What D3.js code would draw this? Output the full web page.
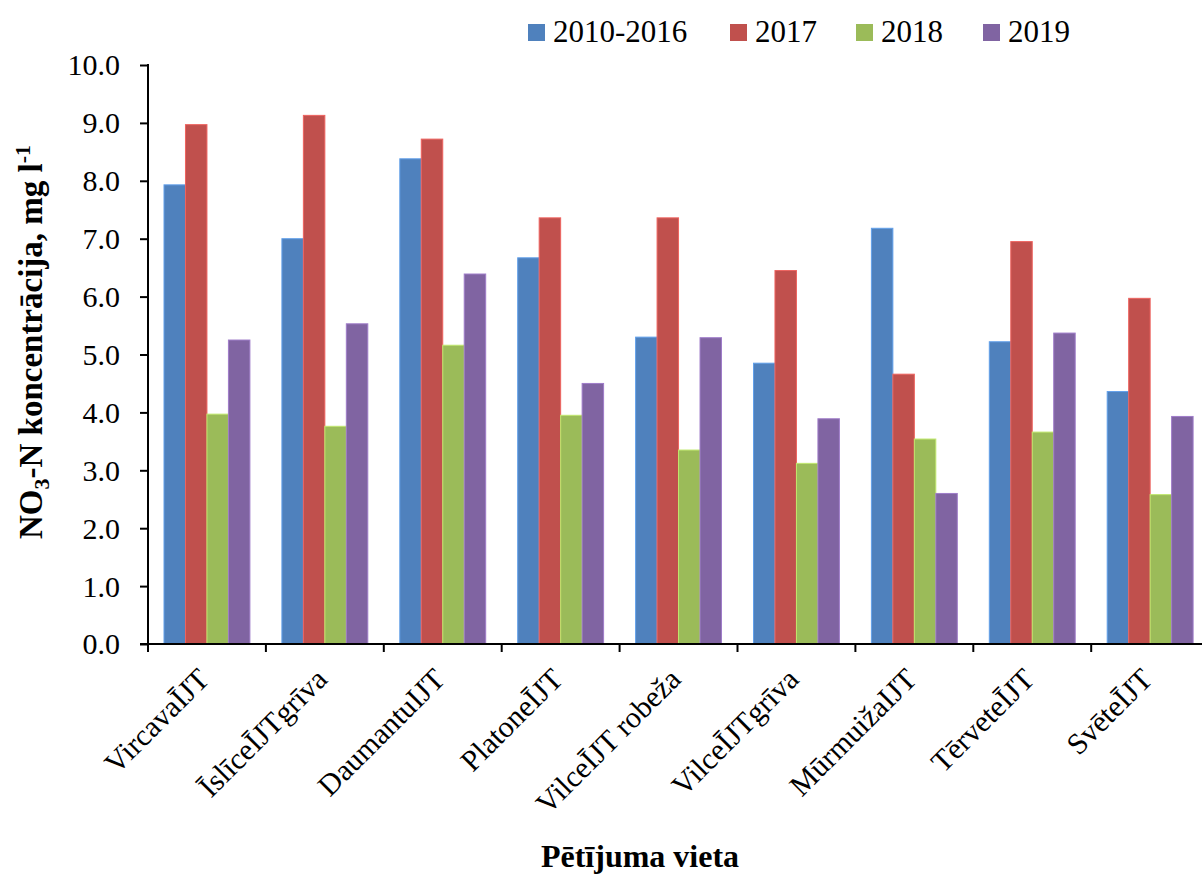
<!DOCTYPE html>
<html>
<head>
  <meta charset="utf-8">
  <title>NO3-N koncentrācija</title>
  <script src="https://cdn.jsdelivr.net/npm/d3@7/dist/d3.min.js"></script>
  <style>
    body { margin: 0; background: #fff; }
    svg { display: block; }
    text { font-family: "Times New Roman", "Liberation Serif", serif; fill: #000; }
  </style>
</head>
<body>
<div id="chart"></div>

<script>
  // data
  var categories = ['VircavaĪJT', 'ĪslīceĪJTgrīva', 'DaumantuIJT', 'PlatoneĪJT', 'VilceĪJT robeža',
                    'VilceĪJTgrīva', 'MūrmuižaIJT', 'TērveteĪJT', 'SvēteĪJT'];
  var seriesNames = ['2010-2016', '2017', '2018', '2019'];
  var v2010_2016 = [7.93, 7.00, 8.38, 6.67, 5.30, 4.85, 7.18, 5.22, 4.36];
  var v2017      = [8.97, 9.13, 8.72, 7.36, 7.36, 6.45, 4.66, 6.95, 5.97];
  var v2018      = [3.97, 3.76, 5.16, 3.95, 3.35, 3.12, 3.54, 3.66, 2.58];
  var v2019      = [5.25, 5.53, 6.39, 4.50, 5.29, 3.89, 2.60, 5.37, 3.93];
  var yTicks = [0, 1, 2, 3, 4, 5, 6, 7, 8, 9, 10];
  var colors = ['#4F81BD', '#C0504D', '#9BBB59', '#8064A2'];

  var seriesValues = [v2010_2016, v2017, v2018, v2019];

  var w = 1202, h = 875;
  var plotLeft = 148, plotTop = 65, plotH = 579;
  var bandW = 117.9;

  var svg = d3.select('#chart').append('svg')
      .attr('width', w)
      .attr('height', h);

  var x0 = d3.scaleBand()
      .domain(categories)
      .range([plotLeft, plotLeft + bandW * categories.length]);
  var x1 = d3.scaleBand()
      .domain(seriesNames)
      .range([16, bandW - 16]);
  var y = d3.scaleLinear()
      .domain([0, 10])
      .range([plotTop + plotH, plotTop]);

  // bars
  var groups = svg.selectAll('g.grp')
      .data(categories)
      .enter()
      .append('g')
      .attr('class', 'grp')
      .attr('transform', function (d) { return 'translate(' + x0(d) + ',0)'; });

  groups.selectAll('rect')
      .data(function (d, i) {
        return seriesNames.map(function (s, j) { return { s: s, j: j, v: seriesValues[j][i] }; });
      })
      .enter()
      .append('rect')
      .attr('x', function (d) { return x1(d.s); })
      .attr('y', function (d) { return y(d.v); })
      .attr('width', x1.bandwidth())
      .attr('height', function (d) { return y(0) - y(d.v); })
      .attr('fill', function (d) { return colors[d.j]; })
      .attr('stroke', function (d) { return d3.color(colors[d.j]).brighter(0.6); })
      .attr('stroke-width', 1);

  // y axis
  var yAxis = d3.axisLeft(y)
      .tickValues(yTicks)
      .tickFormat(d3.format('.1f'))
      .tickSize(8)
      .tickPadding(20);
  var gy = svg.append('g')
      .attr('transform', 'translate(' + plotLeft + ',0)')
      .call(yAxis);
  gy.select('.domain').attr('stroke', '#000').attr('stroke-width', 2)
      .attr('d', 'M0,' + (plotTop - 1) + 'V' + (plotTop + plotH));
  gy.selectAll('.tick line').attr('stroke', '#000').attr('stroke-width', 2);
  gy.selectAll('.tick text')
      .style('font-family', '"Times New Roman", "Liberation Serif", serif')
      .style('font-size', '30px')
      .attr('dy', '0.33em');

  // x axis: ticks on category boundaries
  var xBounds = categories.map(function (c) { return x0(c); }).concat([x0.range()[1]]);
  var gx = svg.append('g')
      .attr('transform', 'translate(0,' + (plotTop + plotH) + ')');
  gx.append('line')
      .attr('x1', plotLeft - 8).attr('x2', x0.range()[1])
      .attr('stroke', '#000').attr('stroke-width', 2);
  gx.selectAll('line.tk')
      .data(xBounds)
      .enter()
      .append('line')
      .attr('class', 'tk')
      .attr('x1', function (d) { return d; })
      .attr('x2', function (d) { return d; })
      .attr('y1', 0).attr('y2', 8)
      .attr('stroke', '#000').attr('stroke-width', 2);

  gx.selectAll('text.cat')
      .data(categories)
      .enter()
      .append('text')
      .attr('class', 'cat')
      .attr('text-anchor', 'end')
      .attr('font-size', '30px')
      .attr('transform', function (d) {
        return 'translate(' + (x0(d) + x0.bandwidth() / 2 + 4) + ',37) rotate(-45)';
      })
      .text(function (d) { return d; });

  // axis titles
  var yt = svg.append('text')
      .attr('text-anchor', 'middle')
      .attr('font-weight', 'bold')
      .attr('font-size', '33px')
      .attr('transform', 'translate(42,342) rotate(-90)');
  yt.append('tspan').text('NO');
  yt.append('tspan').attr('font-size', '22px').attr('dy', 7).text('3');
  yt.append('tspan').attr('dy', -7).text('-N koncentrācija, mg l');
  yt.append('tspan').attr('font-size', '22px').attr('dy', -12).text('-1');

  svg.append('text')
      .attr('x', 640)
      .attr('y', 867)
      .attr('text-anchor', 'middle')
      .attr('font-weight', 'bold')
      .attr('font-size', '32px')
      .text('Pētījuma vieta');

  // legend
  var legX = [528, 730, 856, 983];
  var leg = svg.selectAll('g.leg')
      .data(seriesNames)
      .enter()
      .append('g')
      .attr('class', 'leg')
      .attr('transform', function (d, i) { return 'translate(' + legX[i] + ',24)'; });
  leg.append('rect')
      .attr('width', 17).attr('height', 17)
      .attr('fill', function (d, i) { return colors[i]; });
  leg.append('text')
      .attr('x', 25)
      .attr('y', 18)
      .attr('font-size', '31px')
      .text(function (d) { return d; });
</script>
</body>
</html>
